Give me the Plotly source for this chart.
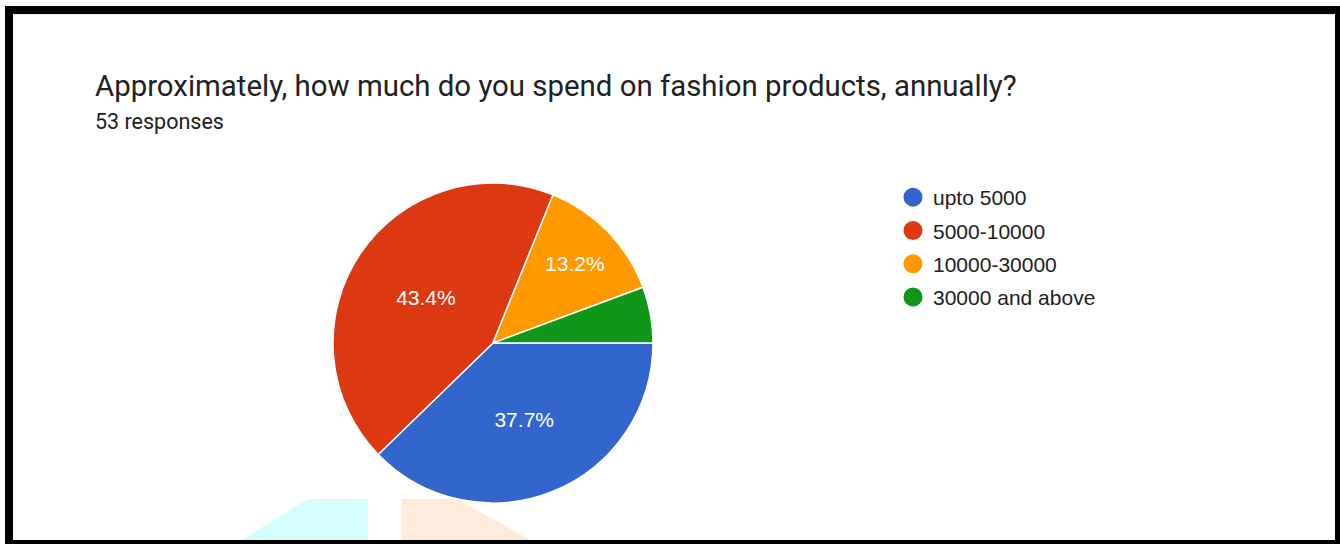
import plotly.graph_objects as go

W, H = 1340, 544

title_text = "Approximately, how much do you spend on fashion products, annually?"
subtitle_text = "53 responses"
categories = ["upto 5000", "5000-10000", "10000-30000", "30000 and above"]
counts = [20, 23, 7, 3]
colors = ["#3366cc", "#dc3912", "#ff9900", "#109618"]

total = sum(counts)
slice_text = [f"{v / total * 100:.1f}%" if v / total >= 0.1 else "" for v in counts]


def px(x):
    return x / W


def py(y):
    return 1 - y / H


cx, cy, r = 493, 343, 160

fig = go.Figure()
fig.add_trace(go.Pie(
    labels=categories, values=counts, sort=False, direction="clockwise", rotation=90,
    marker=dict(colors=colors, line=dict(color="white", width=1.5)),
    text=slice_text, textinfo="text", textposition="inside",
    insidetextorientation="horizontal",
    textfont=dict(color="white", size=21, family="Liberation Sans, Arial"),
    domain=dict(x=[px(cx - r), px(cx + r)], y=[py(cy + r), py(cy - r)]),
    showlegend=False, hoverinfo="label+percent",
))
for i, (name, col) in enumerate(zip(categories, colors)):
    fig.add_trace(go.Scatter(
        x=[None], y=[None], mode="markers", name=name, legendgroup=f"g{i}",
        marker=dict(color=col, size=16, symbol="circle", line=dict(color=col, width=3)),
        showlegend=True,
    ))

shapes = [
    # faint watermark shapes at bottom
    dict(type="path", xref="paper", yref="paper", layer="below",
         path=f"M {px(240)} {py(541)} L {px(308)} {py(499)} L {px(368)} {py(499)} L {px(368)} {py(541)} Z",
         fillcolor="#d4fdfd", line=dict(width=0)),
    dict(type="path", xref="paper", yref="paper", layer="below",
         path=f"M {px(402)} {py(541)} L {px(402)} {py(499)} L {px(457)} {py(499)} L {px(532)} {py(541)} Z",
         fillcolor="#fdebdb", line=dict(width=0)),
    # black frame
    dict(type="rect", xref="paper", yref="paper", x0=px(5), x1=px(1340), y0=py(6), y1=py(14),
         fillcolor="black", line=dict(width=0), layer="above"),
    dict(type="rect", xref="paper", yref="paper", x0=px(5), x1=px(13), y0=py(6), y1=py(544),
         fillcolor="black", line=dict(width=0), layer="above"),
    dict(type="rect", xref="paper", yref="paper", x0=px(1335), x1=px(1340), y0=py(6), y1=py(544),
         fillcolor="black", line=dict(width=0), layer="above"),
    dict(type="rect", xref="paper", yref="paper", x0=px(5), x1=px(1340), y0=py(540), y1=py(544),
         fillcolor="black", line=dict(width=0), layer="above"),
    # faint grey inner edge under the top border
    dict(type="line", xref="paper", yref="paper", x0=px(13), x1=px(1335), y0=py(14.5), y1=py(14.5),
         line=dict(color="#e6e6e6", width=1)),
]

annotations = [
    dict(text=title_text, x=px(93), y=py(86), xref="paper", yref="paper",
         xanchor="left", yanchor="middle", showarrow=False,
         font=dict(family="Roboto", size=29.4, color="#212121")),
    dict(text=subtitle_text, x=px(93), y=py(121), xref="paper", yref="paper",
         xanchor="left", yanchor="middle", showarrow=False,
         font=dict(family="Roboto", size=21.5, color="#212121")),
]

fig.update_layout(
    width=W, height=H, margin=dict(l=0, r=0, t=0, b=0),
    paper_bgcolor="white", plot_bgcolor="white",
    xaxis=dict(visible=False), yaxis=dict(visible=False),
    shapes=shapes, annotations=annotations,
    legend=dict(x=px(893), y=py(177), xanchor="left", yanchor="top",
                font=dict(family="Liberation Sans, Arial", size=21, color="#212121"),
                tracegroupgap=3),
)

fig.write_html("out.html", config={"displayModeBar": False})
